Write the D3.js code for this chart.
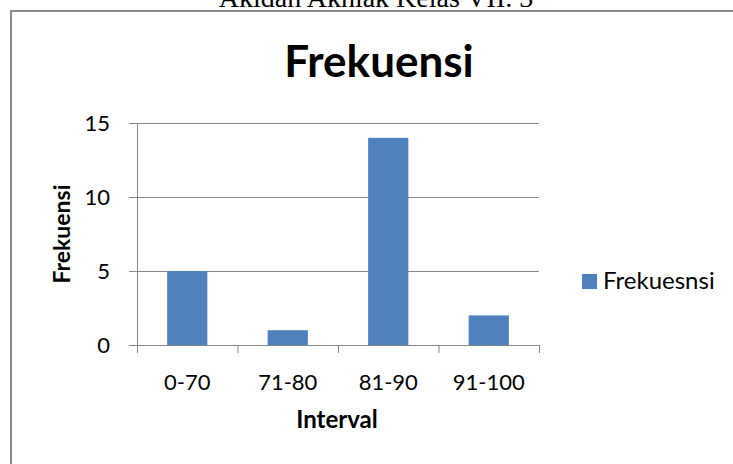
<!DOCTYPE html>
<html>
<head>
<meta charset="utf-8">
<script src="https://cdn.jsdelivr.net/npm/d3@7"></script>
<style>
  html, body { margin: 0; background: #fff; overflow: hidden; }
  svg { display: block; }
</style>
</head>
<body>
<svg id="chart"></svg>
<script>
// data
const categories = ['0-70', '71-80', '81-90', '91-100'];
const frekuensi = [5, 1, 14, 2];
const yTicks = [0, 5, 10, 15];

const width = 733, height = 464;
const plot = { left: 137, right: 539, top: 123, bottom: 345 };
const font = 'Lato, "Open Sans", sans-serif';

const svg = d3.select('#chart')
  .attr('width', width)
  .attr('height', height);

// page heading (cut off at top)
svg.append('text')
  .attr('x', 376).attr('y', 7)
  .attr('text-anchor', 'middle')
  .style('font-family', '"Liberation Serif", "Times New Roman", serif')
  .style('font-size', '28px')
  .text('Akidah Akhlak Kelas VII. 3');

// chart frame, only left and top edges are in view
svg.append('path')
  .attr('d', `M11,${height + 5}V11H${width + 5}`)
  .attr('fill', 'none')
  .attr('stroke', '#8a8a8a')
  .attr('stroke-width', 2);

let x = d3.scaleBand()
  .domain(categories)
  .range([plot.left, plot.right])
  .paddingInner(0.6)
  .paddingOuter(0.3);

let y = d3.scaleLinear()
  .domain([0, 15])
  .range([plot.bottom, plot.top]);

// gridlines
svg.append('g')
  .selectAll('line')
  .data(yTicks)
  .enter()
  .append('line')
  .attr('x1', plot.left - 8)
  .attr('x2', plot.right)
  .attr('y1', d => y(d) + 0.5)
  .attr('y2', d => y(d) + 0.5)
  .attr('stroke', '#868686')
  .attr('stroke-width', 1);

// y axis line
svg.append('line')
  .attr('x1', plot.left + 0.5).attr('x2', plot.left + 0.5)
  .attr('y1', plot.top).attr('y2', plot.bottom + 0.5)
  .attr('stroke', '#868686');

// bars
svg.append('g')
  .selectAll('rect')
  .data(frekuensi)
  .enter()
  .append('rect')
  .attr('x', (d, i) => x(categories[i]))
  .attr('y', d => y(d))
  .attr('width', x.bandwidth())
  .attr('height', d => plot.bottom - y(d))
  .attr('fill', '#4f81bd');

// x tick marks (category boundaries)
const step = (plot.right - plot.left) / categories.length;
svg.append('g')
  .selectAll('line')
  .data(d3.range(categories.length + 1))
  .enter()
  .append('line')
  .attr('x1', i => plot.left + step * i + 0.5)
  .attr('x2', i => plot.left + step * i + 0.5)
  .attr('y1', plot.bottom)
  .attr('y2', plot.bottom + 8)
  .attr('stroke', '#868686');

// y tick labels
svg.append('g')
  .selectAll('text')
  .data(yTicks)
  .enter()
  .append('text')
  .attr('x', 110)
  .attr('y', d => y(d) + 8)
  .attr('text-anchor', 'end')
  .style('font-family', font)
  .style('font-size', '22px')
  .text(d => d);

// x tick labels
svg.append('g')
  .selectAll('text')
  .data(categories)
  .enter()
  .append('text')
  .attr('x', d => x(d) + x.bandwidth() / 2)
  .attr('y', 390)
  .attr('text-anchor', 'middle')
  .style('font-family', font)
  .style('font-size', '22px')
  .text(d => d);

// titles
svg.append('text')
  .attr('x', 379).attr('y', 77)
  .attr('text-anchor', 'middle')
  .style('font-family', font)
  .style('font-weight', 'bold')
  .style('font-size', '44px')
  .text('Frekuensi');

svg.append('text')
  .attr('x', 337).attr('y', 428)
  .attr('text-anchor', 'middle')
  .style('font-family', font)
  .style('font-weight', 'bold')
  .style('font-size', '24px')
  .text('Interval');

svg.append('text')
  .attr('transform', 'translate(70,234) rotate(-90)')
  .attr('text-anchor', 'middle')
  .style('font-family', font)
  .style('font-weight', 'bold')
  .style('font-size', '23px')
  .text('Frekuensi');

// legend
svg.append('rect')
  .attr('x', 582).attr('y', 274)
  .attr('width', 15).attr('height', 15)
  .attr('fill', '#4f81bd');

svg.append('text')
  .attr('x', 603).attr('y', 289)
  .style('font-family', font)
  .style('font-size', '24px')
  .text('Frekuesnsi');
</script>
</body>
</html>
